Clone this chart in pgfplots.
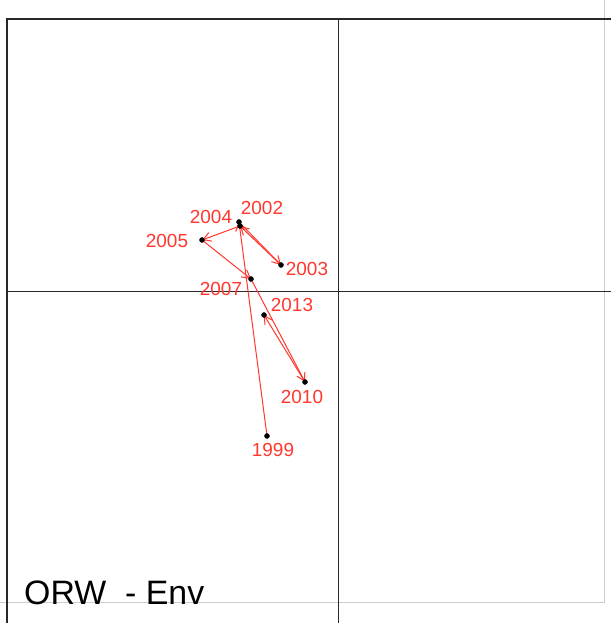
\documentclass[border=0pt]{standalone}
\usepackage{pgfplots}
\pgfplotsset{compat=1.18}
\usepackage{fontspec}
\setmainfont{Liberation Sans}
\usetikzlibrary{arrows.meta}
\definecolor{rred}{RGB}{255,55,45}
\definecolor{frame}{RGB}{40,40,40}
\definecolor{lgray}{RGB}{205,205,205}
\begin{document}
\begin{tikzpicture}
\begin{axis}[
  scale only axis, width=611bp, height=623bp,
  xmin=0, xmax=611, ymin=0, ymax=623,
  axis line style={draw=none}, ticks=none,
  clip=true,
]
% light gray outer box
\addplot[lgray, line width=1bp] coordinates {(604,623) (604,20)};
\addplot[lgray, line width=1bp] coordinates {(0,20) (604,20)};
% plot frame and cross lines
\addplot[frame, line width=1.2bp] coordinates {(7,0) (7,604) (611,604)};
\addplot[frame, line width=1bp] coordinates {(338,0) (338,604)};
\addplot[frame, line width=1bp] coordinates {(7,331) (611,331)};
% trajectory arrows
\pgfplotsset{traj/.style={rred, line width=1bp, -{Straight Barb[length=8bp,width=9bp]}}}
\addplot[traj] coordinates {(267,187) (239,401)};   % 1999 -> 2002
\addplot[traj] coordinates {(239,401) (281,358)};   % 2002 -> 2003
\addplot[traj] coordinates {(281,358) (240,397)};   % 2003 -> 2004
\addplot[traj] coordinates {(240,397) (202,383)};   % 2004 -> 2005
\addplot[traj] coordinates {(202,383) (251,344)};   % 2005 -> 2007
\addplot[traj] coordinates {(251,344) (305,241)};   % 2007 -> 2010
\addplot[traj] coordinates {(305,241) (264,308)};   % 2010 -> 2013
% points
\addplot[only marks, mark=*, mark size=2.5bp, black] coordinates {
(267,187) (239,401) (281,358) (240,397) (202,383) (251,344) (305,241) (264,308)};
% labels
\addplot[only marks, mark=none, nodes near coords, point meta=explicit symbolic,
  nodes near coords style={anchor=center, inner sep=0pt, text=rred, font=\fontsize{19}{21}\selectfont}]
table[meta=label] {
x y label
262 415 2002
211 406 2004
167 382 2005
307 354 2003
221 334 2007
292 318 2013
302 226 2010
273 173 1999
};
\node[anchor=base west, inner sep=0pt, font=\fontsize{34}{36}\selectfont] at (axis cs:24,19) {ORW\ \ - Env};
\end{axis}
\end{tikzpicture}
\end{document}
